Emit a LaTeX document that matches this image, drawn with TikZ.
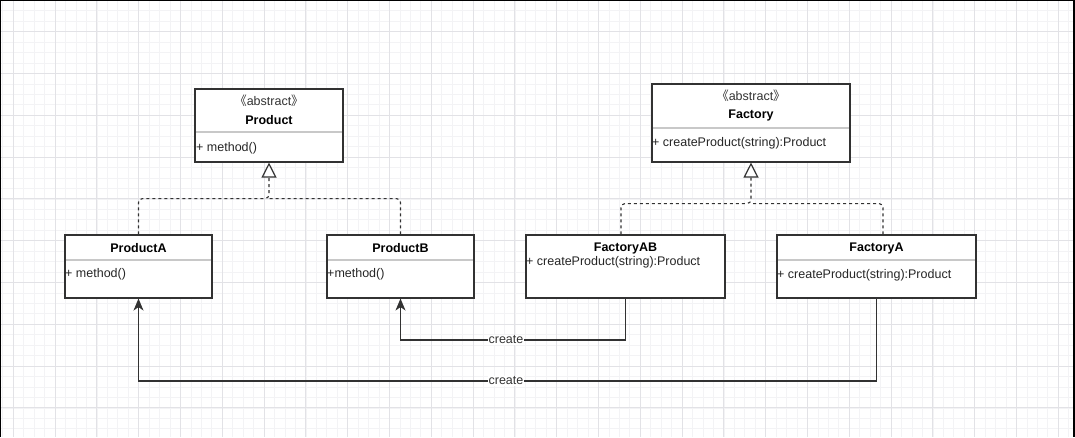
\documentclass[tikz,border=0pt]{standalone}
\usepackage{fontspec}
\setmainfont{Liberation Sans}
\newfontfamily\cjk{Noto Sans CJK SC}
\usetikzlibrary{arrows.meta,calc,positioning}
\definecolor{GridMinor}{RGB}{243,243,245}
\definecolor{GridMajor}{RGB}{226,226,230}
\definecolor{BoxLine}{RGB}{50,50,50}
\definecolor{Divider}{RGB}{200,200,200}
\newcommand{\umlsize}{\fontsize{12.5}{15}\selectfont}
\newcommand{\stereo}[1]{{\cjk 《}#1{\cjk 》}}

\begin{document}
\begin{tikzpicture}[x=1pt, y=-1pt,
	umlbox/.style={draw=BoxLine, line width=1.1pt, fill=white, inner sep=0pt},
	classname/.style={font=\umlsize\bfseries, inner sep=0pt, text=black},
	stereotype/.style={font=\umlsize, inner sep=0pt, text=black!80},
	member/.style={font=\umlsize, inner sep=0pt, anchor=west, text=black!85},
	divider/.style={draw=Divider, line width=1.2pt},
	realize/.style={draw=BoxLine, line width=1.1pt, dash pattern=on 3pt off 3pt, rounded corners=4pt},
	inherit/.style={realize, -{Triangle[open, length=15pt, width=15pt, line width=1.2pt]}},
	create/.style={draw=BoxLine, line width=1.1pt, -{Stealth[length=12pt, width=10pt, inset=3.5pt]}},
	createlabel/.style={font=\umlsize, fill=white, inner sep=1pt, text=black!80}]
		\useasboundingbox (0,0) rectangle (1075,437);
		\fill[white] (0,0) rectangle (1075,437);
		
		% background grid
		\foreach \k in {-1,...,101}
			\draw[GridMinor, line width=0.8pt] ({13.3+\k*10.45},0) -- ({13.3+\k*10.45},437);
		\foreach \k in {-3,...,39}
			\draw[GridMinor, line width=0.8pt] (0,{31.7+\k*10.45}) -- (1075,{31.7+\k*10.45});
		\foreach \k in {0,...,25}
			\draw[GridMajor, line width=1pt] ({13.3+\k*41.8},0) -- ({13.3+\k*41.8},437);
		\foreach \k in {0,...,9}
			\draw[GridMajor, line width=1pt] (0,{31.7+\k*41.8}) -- (1075,{31.7+\k*41.8});
		
		% abstract classes
		\node[umlbox, minimum width=148pt, minimum height=73pt] (product) at (269,125.5) {};
		\node[stereotype] (productst) at (269,101) {\stereo{abstract}};
		\node[classname] (productname) at (269,120) {Product};
		\draw[divider] (196,132) -- (342,132);
		\node[member] (productm) at (196,148) {+ method()};
		
		\node[umlbox, minimum width=198pt, minimum height=78pt] (factory) at (751,123) {};
		\node[stereotype] (factoryst) at (751,96) {\stereo{abstract}};
		\node[classname] (factoryname) at (751,115) {Factory};
		\draw[divider] (653,128) -- (849,128);
		\node[member] (factorym) at (652,143.5) {+ createProduct(string):Product};
		
		% concrete classes
		\node[umlbox, minimum width=147pt, minimum height=63pt] (producta) at (138.5,266.5) {};
		\node[classname] (productaname) at (138.5,248) {ProductA};
		\draw[divider] (66,260) -- (211,260);
		\node[member] (productam) at (65,274.5) {+ method()};
		
		\node[umlbox, minimum width=147pt, minimum height=63pt] (productb) at (400.5,266.5) {};
		\node[classname] (productbname) at (400.5,248) {ProductB};
		\draw[divider] (328,260) -- (473,260);
		\node[member] (productbm) at (327,274.5) {+method()};
		
		\node[umlbox, minimum width=199pt, minimum height=63pt] (factoryab) at (625.5,266.5) {};
		\node[classname] (factoryabname) at (625.5,248) {FactoryAB};
		\node[member] (factoryabm) at (526,262.5) {+ createProduct(string):Product};
		
		\node[umlbox, minimum width=199pt, minimum height=63pt] (factorya) at (876.5,266.5) {};
		\node[classname] (factoryaname) at (876.5,248) {FactoryA};
		\draw[divider] (778,260) -- (975,260);
		\node[member] (factoryam) at (777,275) {+ createProduct(string):Product};
		
		% realization
		\coordinate (pjoin) at ($(product.south)+(0,36)$);
		\draw[inherit] (producta.north) |- (pjoin) -- (product.south);
		\draw[realize] (productb.north) |- (pjoin);
		
		\coordinate (fjoin) at ($(factory.south)+(0,41)$);
		\draw[inherit] ([xshift=-4.5pt]factoryab.north) |- (fjoin) -- (factory.south);
		\draw[realize] ([xshift=6.5pt]factorya.north) |- (fjoin);
		
		% create
		\coordinate (createab) at (506,340);
		\coordinate (createa) at (506,381);
		\draw[create] (factoryab.south) |- (createab) -| (productb.south);
		\draw[create] (factorya.south) |- (createa) -| (producta.south);
		\node[createlabel] (createablabel) at (createab) {create};
		\node[createlabel] (createalabel) at (createa) {create};
		
		% frame
		\draw[black, line width=1.5pt] (0,437) -- (0,0) -- (1075,0);
		\fill[black] (1072.7,0) rectangle (1075,437);
	\end{tikzpicture}
\end{document}
